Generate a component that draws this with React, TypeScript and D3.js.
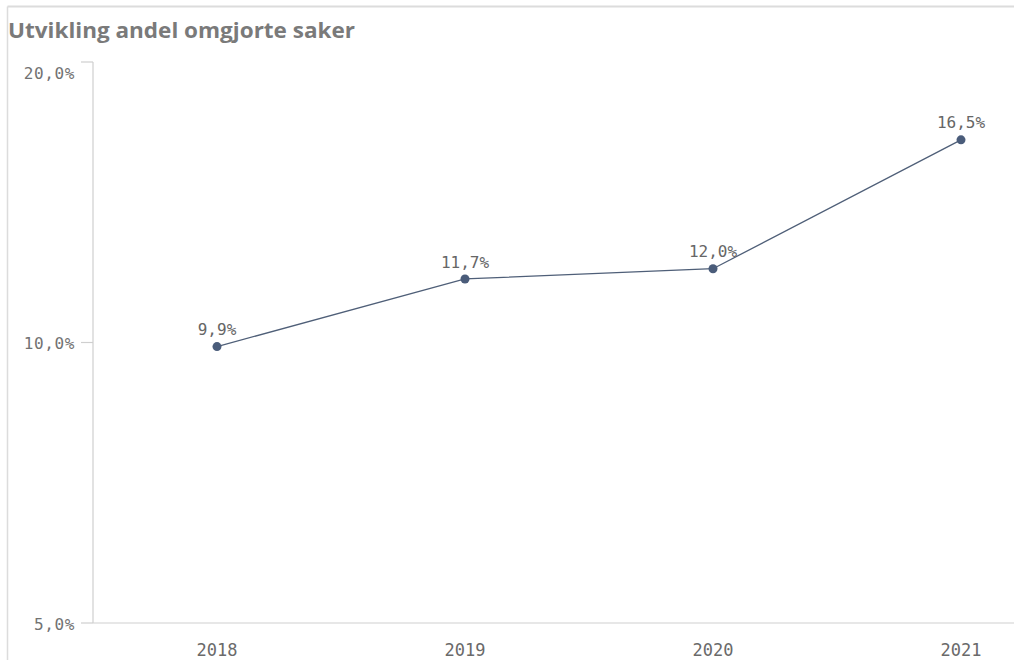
import React from "react";
import * as d3 from "d3";

const title = "Utvikling andel omgjorte saker";
const years = ["2018", "2019", "2020", "2021"];
const values = [9.9, 11.7, 12.0, 16.5];
const yTicks = [5, 10, 20];

const W = 1014;
const H = 660;
const fmt = (v: number) => v.toFixed(1).replace(".", ",") + "%";

export default function App() {
  const axisX = 93;
  const axisBottom = 623;
  const axisTop = 62;
  const x = d3.scaleBand<string>().domain(years).range([axisX, 1085]).padding(0);
  const y = d3.scaleLog().domain([5, 20]).range([axisBottom, axisTop]);
  const cx = (d: string) => (x(d) as number) + x.bandwidth() / 2;
  const line = d3
    .line<number>()
    .x((_, i) => cx(years[i]))
    .y((v) => y(v));
  const mono = "'DejaVu Sans Mono', 'Liberation Mono', monospace";
  return (
    <svg
      width={W}
      height={H}
      style={{ position: "absolute", left: 0, top: 0, background: "#fff" }}
    >
      <line x1={7.5} y1={6.5} x2={W} y2={6.5} stroke="#dcdcdc" strokeWidth={2} />
      <line x1={7.5} y1={6.5} x2={7.5} y2={H} stroke="#dcdcdc" strokeWidth={1.5} />
      <text
        x={8}
        y={38}
        fontFamily="'Open Sans', 'Noto Sans', sans-serif"
        fontWeight={700}
        fontSize={22}
        fill="#7a7a7a"
        textLength={347}
        lengthAdjust="spacingAndGlyphs"
      >
        {title}
      </text>
      <line x1={axisX} y1={axisTop} x2={axisX} y2={axisBottom} stroke="#cfcfcf" strokeWidth={1.2} />
      <line x1={axisX} y1={axisBottom} x2={W} y2={axisBottom} stroke="#cfcfcf" strokeWidth={1.2} />
      {yTicks.map((t, i) => (
        <g key={t}>
          <line x1={81} x2={axisX} y1={y(t)} y2={y(t)} stroke="#cfcfcf" strokeWidth={1.2} />
          <text
            x={75}
            y={i === yTicks.length - 1 ? y(t) + 11 : y(t) + 1}
            dy="0.35em"
            textAnchor="end"
            fontFamily={mono}
            fontSize={16}
            letterSpacing={0.6}
            fill="#727272"
          >
            {fmt(t)}
          </text>
        </g>
      ))}
      {years.map((yr) => (
        <text
          key={yr}
          x={cx(yr)}
          y={650}
          dy="0.35em"
          textAnchor="middle"
          fontFamily={mono}
          fontSize={17}
          fill="#6a6a6a"
        >
          {yr}
        </text>
      ))}
      <path d={line(values) || ""} fill="none" stroke="#4f5f78" strokeWidth={1.3} />
      {values.map((v, i) => (
        <g key={years[i]}>
          <circle cx={cx(years[i])} cy={y(v)} r={4.5} fill="#4a5c7a" />
          <text
            x={cx(years[i])}
            y={y(v) - 17}
            dy="0.35em"
            textAnchor="middle"
            fontFamily={mono}
            fontSize={16}
            fill="#666666"
          >
            {fmt(v)}
          </text>
        </g>
      ))}
    </svg>
  );
}
